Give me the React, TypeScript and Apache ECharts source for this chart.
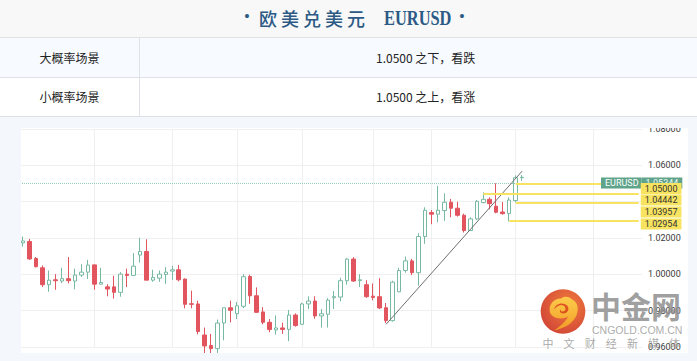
import React, { useEffect, useRef } from "react";
import * as echarts from "echarts";

// ---- data ----
// each candle: [open, high, low, close]
const candles: [number, number, number, number][] = [
  [1.0173, 1.0208, 1.0153, 1.0184],
  [1.0181, 1.0195, 1.008, 1.0085],
  [1.0087, 1.0095, 1.0038, 1.0042],
  [1.0036, 1.0049, 0.993, 0.9943],
  [0.9943, 1.0021, 0.9904, 0.9968],
  [0.997, 1.0001, 0.9915, 0.9965],
  [0.9963, 1.0036, 0.9952, 0.9976],
  [0.9976, 1.0095, 0.995, 0.9965],
  [0.9963, 1.0031, 0.9917, 0.9996],
  [0.9996, 1.0056, 0.9985, 1.0012],
  [1.0012, 1.008, 0.9974, 1.0051],
  [1.0052, 1.0054, 0.9915, 0.9946],
  [0.9946, 1.0036, 0.9943, 0.9955],
  [0.9931, 0.9946, 0.9879, 0.9919],
  [0.9931, 0.9992, 0.9866, 0.9901],
  [0.9901, 1.0012, 0.9877, 1.0001],
  [1.0001, 1.0031, 0.993, 0.9994],
  [0.9994, 1.0117, 0.9994, 1.0045],
  [1.0106, 1.0201, 1.0065, 1.0126],
  [1.0126, 1.0193, 0.9968, 0.9968],
  [0.9968, 1.0025, 0.9959, 0.9983],
  [0.9979, 1.0021, 0.9959, 1.0001],
  [0.9999, 1.004, 0.9948, 1.0012],
  [1.0018, 1.0047, 0.997, 1.0025],
  [1.0025, 1.0052, 0.9961, 0.997],
  [0.9974, 0.9977, 0.9813, 0.9835],
  [0.9838, 0.991, 0.9813, 0.9835],
  [0.9837, 0.9855, 0.967, 0.9685],
  [0.9666, 0.9707, 0.956, 0.9606],
  [0.9608, 0.9672, 0.9536, 0.9591],
  [0.9591, 0.9751, 0.9555, 0.9732],
  [0.9732, 0.9816, 0.9637, 0.9816],
  [0.9816, 0.9855, 0.9736, 0.9802],
  [0.9783, 0.9848, 0.9754, 0.9827],
  [0.9824, 1.0001, 0.9815, 0.9987],
  [0.9988, 0.9998, 0.9838, 0.9882],
  [0.9882, 0.9928, 0.9787, 0.9791],
  [0.9793, 0.982, 0.9725, 0.9736],
  [0.9736, 0.9754, 0.9681, 0.9696],
  [0.9694, 0.9774, 0.9668, 0.9705],
  [0.9705, 0.9734, 0.9672, 0.9697],
  [0.9697, 0.9804, 0.9632, 0.9776],
  [0.9776, 0.9785, 0.9712, 0.9718],
  [0.9725, 0.9844, 0.9721, 0.9837],
  [0.9837, 0.9879, 0.9809, 0.9853],
  [0.9853, 0.9879, 0.9756, 0.9771],
  [0.9771, 0.9809, 0.9707, 0.9783],
  [0.978, 0.9869, 0.9707, 0.9858],
  [0.9871, 0.9908, 0.9809, 0.9877],
  [0.9875, 0.9981, 0.9851, 0.9965],
  [0.9965, 1.0089, 0.9943, 1.0084],
  [1.0084, 1.0095, 0.9959, 0.9963],
  [0.9965, 1.0001, 0.993, 0.997],
  [0.9943, 0.9968, 0.9871, 0.9877],
  [0.988, 0.995, 0.9857, 0.9873],
  [0.9877, 0.9979, 0.9809, 0.9815],
  [0.9816, 0.9842, 0.9732, 0.9745],
  [0.9745, 0.9965, 0.974, 0.9957],
  [0.9904, 1.0036, 0.9902, 1.0021],
  [1.0021, 1.0098, 1.0009, 1.0074],
  [1.0074, 1.0085, 0.9996, 1.0009],
  [1.0009, 1.0226, 0.9937, 1.0208],
  [1.0208, 1.0369, 1.0168, 1.0353],
  [1.034, 1.0354, 1.0276, 1.0331],
  [1.0331, 1.0486, 1.0287, 1.0353],
  [1.0351, 1.0446, 1.0294, 1.0397],
  [1.0397, 1.0415, 1.0314, 1.0364],
  [1.0364, 1.04, 1.0318, 1.0325],
  [1.0325, 1.0334, 1.023, 1.0241],
  [1.0241, 1.0314, 1.0239, 1.0305],
  [1.0305, 1.0409, 1.03, 1.0402],
  [1.0395, 1.0451, 1.0391, 1.0413],
  [1.0413, 1.0424, 1.0358, 1.0389],
  [1.0375, 1.0501, 1.0336, 1.0342],
  [1.0343, 1.0398, 1.0329, 1.0334],
  [1.0334, 1.0424, 1.0292, 1.0409],
  [1.0406, 1.0545, 1.0397, 1.0532],
  [1.0532, 1.0547, 1.0515, 1.05344],
];
const futureSlots = 18;
const categories = Array.from({ length: candles.length + futureSlots }, (_, i) => String(i + 1));

const symbolName = "EURUSD";
const lastPrice = 1.05344;
const levelPrices = [1.05, 1.04442, 1.03957, 1.02954];
const levelStartIdx = [76, 71, 76, 75];
const trendFrom: [number, number] = [56, 0.97247];
const trendTo: [number, number] = [77, 1.05681];
const dividerIdx = [11, 23, 33, 43, 54, 63, 76, 88];
const yMin = 0.96;
const yMax = 1.08;
const yStep = 0.02;
const hiddenTick = 1.04; // covered by the level labels in the picture

const titleCn = "欧美兑美元";
const titleEn = "EURUSD";
const rowLabels = ["大概率场景", "小概率场景"];
const rowTexts = ["1.0500 之下，看跌", "1.0500 之上，看涨"];
const wmName = "中金网";
const wmDomain = "CNGOLD.COM.CN";
const wmSlogan = ["中", "文", "财", "经", "新", "媒", "体"];

// ---- styles ----
const UP = "#78b9a2";
const DOWN = "#e2555f";
const YELLOW = "#f7e35f";
const TEAL = "#5ea38a";
const PANEL_BG = "#f4f8fd";
const levelLabelShift = [5, 6.4, 9.6, 3.3];

echarts.graphic.registerShape(
  "cgSwirl",
  echarts.graphic.extendPath(
    "M9 23 C7 15 13 9 20 9 C23 6 29 7 31 10 C36 12 38 18 36 24 C34 32 26 38 13 41 C20 36 25 32 27 27 C22 30 12 30 9 23 Z",
    {}
  )
);
echarts.graphic.registerShape(
  "cgCurl",
  echarts.graphic.extendPath(
    "M13 20 C14 14 22 12 26 16 C29 19 27 24 22 24 C19 24 18 21 20 20 C19 22 22 23 24 21 C26 18 22 14 18 16 C15 17 14 19 13 20 Z",
    {}
  )
);

function buildOption() {
  const lastIdx = categories.length - 1;
  const levelLines = levelPrices.map((p, k) => [
    {
      coord: [levelStartIdx[k], p],
      lineStyle: { color: YELLOW, width: 2, type: "solid" },
      label: {
        show: true,
        position: "end",
        distance: 2,
        offset: [0, levelLabelShift[k]],
        formatter: p.toFixed(5),
        backgroundColor: YELLOW,
        color: "#333",
        fontSize: 9,
        lineHeight: 9,
        fontFamily: "Roboto, sans-serif",
        padding: [1, 4, 1, 4],
      },
    },
    { coord: [lastIdx, p] },
  ]);
  const trendLine = [
    { coord: trendFrom, lineStyle: { color: "#6e6e6e", width: 1, type: "solid" }, label: { show: false } },
    { coord: trendTo },
  ];
  const lastLine = {
    yAxis: lastPrice,
    lineStyle: { color: "#93cdb8", width: 1, type: "dotted" },
    label: {
      show: true,
      position: "end",
      distance: 0,
      offset: [-41, -0.5],
      formatter: `{a|${symbolName}}{b|${lastPrice.toFixed(5)}}`,
      rich: {
        a: { backgroundColor: TEAL, color: "#ffffff", fontSize: 9, lineHeight: 9, padding: [1, 3, 1, 4], fontFamily: "Roboto, sans-serif" },
        b: { backgroundColor: TEAL, color: "#eef7f3", fontSize: 9, lineHeight: 9, padding: [1, 4, 1, 4], fontFamily: "Roboto, sans-serif" },
      },
    },
  };

  const sloganX0 = 548;
  const sloganPitch = 21.1;
  const wmOpacity = 0.88;

  return {
    animation: false,
    backgroundColor: "#ffffff",
    grid: { left: 20, right: 55, top: 12, bottom: 14 },
    xAxis: {
      type: "category",
      data: categories,
      boundaryGap: true,
      axisLine: { show: false },
      axisTick: { show: false },
      axisLabel: { show: false },
      splitLine: { show: false },
    },
    yAxis: {
      type: "value",
      position: "right",
      min: yMin,
      max: yMax,
      interval: yStep,
      axisLine: { show: false },
      axisTick: { show: false },
      axisLabel: {
        fontSize: 9,
        color: "#3b3b3b",
        margin: 6,
        fontFamily: "Roboto, sans-serif",
        formatter: (v: number) => (Math.abs(v - hiddenTick) < 1e-6 ? "" : v.toFixed(5)),
      },
      splitLine: { lineStyle: { color: "#f0f0f0", width: 1 } },
    },
    series: [
      {
        type: "line",
        data: [],
        silent: true,
        markLine: {
          z: 1,
          silent: true,
          animation: false,
          symbol: ["none", "none"],
          label: { show: false },
          lineStyle: { color: "#efefef", type: "solid", width: 1 },
          data: dividerIdx.map((i) => ({ xAxis: i })),
        },
      },
      {
        type: "candlestick",
        z: 3,
        clip: false,
        barWidth: 4,
        data: candles.map(([o, h, l, c]) => [o, c, l, h]),
        itemStyle: {
          color: "#ffffff",
          color0: DOWN,
          borderColor: UP,
          borderColor0: DOWN,
          borderWidth: 1,
        },
        markLine: {
          z: 5,
          silent: true,
          animation: false,
          symbol: ["none", "none"],
          label: { show: false },
          data: [lastLine, trendLine, ...levelLines],
        },
      },
    ],
    graphic: [
      // frame around the white chart panel
      { type: "rect", z: 100, shape: { x: 0, y: 0, width: 697, height: 11 }, style: { fill: PANEL_BG } },
      { type: "rect", z: 100, shape: { x: 0, y: 236, width: 697, height: 8 }, style: { fill: PANEL_BG } },
      { type: "rect", z: 100, shape: { x: 0, y: 0, width: 21, height: 244 }, style: { fill: PANEL_BG } },
      { type: "rect", z: 100, shape: { x: 688, y: 0, width: 9, height: 244 }, style: { fill: PANEL_BG } },
      // watermark
      {
        type: "circle",
        z: 90,
        shape: { cx: 563, cy: 194.5, r: 22.3 },
        style: {
          opacity: wmOpacity,
          fill: {
            type: "radial",
            x: 0.62,
            y: 0.35,
            r: 0.75,
            colorStops: [
              { offset: 0, color: "#ef6a21" },
              { offset: 1, color: "#c9291b" },
            ],
          },
        },
      },
      {
        type: "cgSwirl",
        z: 91,
        x: 541,
        y: 172.5,
        style: {
          opacity: wmOpacity,
          fill: {
            type: "linear",
            x: 0,
            y: 0,
            x2: 0,
            y2: 1,
            colorStops: [
              { offset: 0, color: "#ffd84e" },
              { offset: 1, color: "#f5a524" },
            ],
          },
        },
      },
      { type: "cgCurl", z: 92, x: 541, y: 172.5, style: { opacity: wmOpacity, fill: "#d8431d" } },
      {
        type: "text",
        z: 90,
        x: 591,
        y: 172.5,
        style: {
          text: wmName,
          fontSize: 30,
          fontWeight: "bold",
          fontFamily: '"Noto Sans CJK SC", sans-serif',
          fill: "#8f8f8f",
          opacity: 0.85,
          align: "left",
          verticalAlign: "top",
        },
      },
      {
        type: "text",
        z: 90,
        x: 592,
        y: 212.5,
        style: {
          text: wmDomain,
          fontSize: 10.5,
          fontFamily: '"Liberation Sans", Arial, sans-serif',
          fill: "#a2a2a2",
          opacity: 0.9,
          align: "left",
          verticalAlign: "middle",
        },
      },
      ...wmSlogan.map((ch, k) => ({
        type: "text",
        z: 90,
        x: sloganX0 + k * sloganPitch,
        y: 225.5,
        style: {
          text: ch,
          fontSize: 11,
          fontFamily: '"Noto Sans CJK SC", sans-serif',
          fill: "#a0a0a0",
          opacity: 0.9,
          align: "center",
          verticalAlign: "middle",
        },
      })),
    ],
  };
}

export default function App() {
  const ref = useRef<HTMLDivElement>(null);
  useEffect(() => {
    if (!ref.current) return;
    const chart = echarts.init(ref.current, null, { renderer: "svg" });
    chart.setOption(buildOption() as any);
    return () => chart.dispose();
  }, []);

  const cjk = '"Noto Sans CJK SC", sans-serif';
  const titleColor = "#2c5a85";
  const dotStyle = (left: number): React.CSSProperties => ({
    position: "absolute",
    left,
    top: 5,
    width: 12,
    textAlign: "center",
    fontSize: 19,
    lineHeight: "24px",
    color: titleColor,
    fontFamily: "Roboto, sans-serif",
  });
  const rowTop = [38, 78];
  const rowH = [39, 38];
  const rowBg = ["#f7faff", "#ffffff"];

  return (
    <div
      style={{
        position: "absolute",
        left: 0,
        top: 0,
        width: 697,
        height: 361,
        overflow: "hidden",
        background: PANEL_BG,
        fontFamily: cjk,
      }}
    >
      <div
        style={{
          position: "absolute",
          left: 0,
          top: 0,
          width: 697,
          height: 37,
          background: "#f8f8f8",
          borderBottom: "1px solid #e2e2e2",
        }}
      >
        <span style={dotStyle(241)}>•</span>
        <span
          style={{
            position: "absolute",
            left: 259,
            top: 7,
            fontSize: 18,
            lineHeight: "22px",
            letterSpacing: 4,
            fontWeight: 500,
            color: titleColor,
            fontFamily: cjk,
            whiteSpace: "nowrap",
          }}
        >
          {titleCn}
        </span>
        <span
          style={{
            position: "absolute",
            left: 384,
            top: 7,
            fontSize: 20,
            lineHeight: "22px",
            fontWeight: "bold",
            color: titleColor,
            fontFamily: '"Liberation Serif", "DejaVu Serif", serif',
            transform: "scaleX(0.82)",
            transformOrigin: "left center",
            whiteSpace: "nowrap",
          }}
        >
          {titleEn}
        </span>
        <span style={dotStyle(456)}>•</span>
      </div>
      {rowLabels.map((lab, r) => (
        <div
          key={lab}
          style={{
            position: "absolute",
            left: 0,
            top: rowTop[r],
            width: 697,
            height: rowH[r],
            background: rowBg[r],
            borderBottom: "1px solid #dde1e6",
            fontSize: 12,
            lineHeight: rowH[r] + "px",
            color: "#222",
          }}
        >
          <span style={{ position: "absolute", left: 0, width: 139, textAlign: "center" }}>{lab}</span>
          <span style={{ position: "absolute", left: 376, whiteSpace: "nowrap" }}>{rowTexts[r]}</span>
        </div>
      ))}
      <div style={{ position: "absolute", left: 139, top: 38, width: 1, height: 78, background: "#dfe3e9" }} />
      <div ref={ref} style={{ position: "absolute", left: 0, top: 117, width: 697, height: 244 }} />
    </div>
  );
}
